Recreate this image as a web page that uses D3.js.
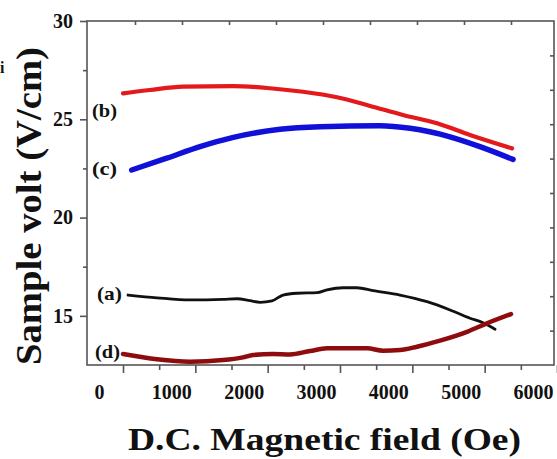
<!DOCTYPE html>
<html>
<head>
<meta charset="utf-8">
<script src="https://cdn.jsdelivr.net/npm/d3@7"></script>
<style>
  html, body { margin: 0; padding: 0; background: #fff; }
  svg { display: block; }
  text { font-family: "Liberation Serif", "Times New Roman", serif; font-weight: bold; fill: #111; }
</style>
</head>
<body>
<svg id="chart" width="557" height="459"></svg>
<script>
// ---- data (field in Oe, sample voltage in V/cm) ----
const xTickLabels = [0, 1000, 2000, 3000, 4000, 5000, 6000];
const yTickLabels = [15, 20, 25, 30];

const fieldA = [401, 802, 1258, 1714, 1908, 2088, 2226, 2392, 2544, 2737, 3014, 3152, 3373, 3567, 3788, 4161, 4535, 4853, 5129, 5309, 5475];
const voltA  = [16.06, 15.92, 15.81, 15.84, 15.87, 15.77, 15.69, 15.76, 16.06, 16.15, 16.18, 16.32, 16.43, 16.43, 16.28, 16.06, 15.72, 15.30, 14.88, 14.65, 14.32];

const fieldB = [332, 705, 1161, 1853, 2364, 2820, 3290, 3747, 4203, 4673, 5129, 5710];
const voltB  = [26.32, 26.49, 26.66, 26.69, 26.58, 26.40, 26.12, 25.68, 25.22, 24.80, 24.20, 23.52];

const fieldC = [452, 936, 1396, 1857, 2502, 3055, 3885, 4300, 4853, 5267, 5724];
const voltC  = [22.42, 23.02, 23.61, 24.08, 24.49, 24.62, 24.67, 24.54, 24.11, 23.61, 22.96];

const fieldD = [332, 802, 1258, 1714, 1991, 2129, 2406, 2641, 2917, 3152, 3705, 3926, 4161, 4396, 4714, 5088, 5364, 5696];
const voltD  = [13.06, 12.79, 12.67, 12.75, 12.89, 13.01, 13.06, 13.04, 13.21, 13.35, 13.35, 13.23, 13.26, 13.43, 13.74, 14.19, 14.62, 15.09];

const seriesNames = ["(a)", "(b)", "(c)", "(d)"];
// label anchors in data units (left edge field, centre voltage)
const labelField = [-28, -97, -97, -55];
const labelVolt  = [16.14, 25.47, 22.52, 13.19];

// ---- layout ----
const svg = d3.select("#chart");
const frame = { left: 87, right: 554, top: 21, bottom: 365 };

const x = d3.scaleLinear().domain([0, 6000]).range([99, 533]);
const y = d3.scaleLinear().domain([12.5, 30]).range([frame.bottom, frame.top]);
const xTop = d3.scaleLinear().domain([0, 10]).range([88, 558]);
const yRight = d3.scaleLinear().domain([0, 10]).range([frame.bottom, frame.top]);

const axisColor = "#555";

// frame
svg.append("rect")
  .attr("x", frame.left).attr("y", frame.top)
  .attr("width", frame.right - frame.left).attr("height", frame.bottom - frame.top)
  .attr("fill", "none").attr("stroke", axisColor).attr("stroke-width", 1.6);

function styleAxis(g) {
  g.select(".domain").remove();
  g.selectAll(".tick line").attr("stroke", axisColor).attr("stroke-width", 1.6);
  g.selectAll(".tick text").attr("font-size", 20).attr("font-family", "Liberation Serif").attr("font-weight", "bold").attr("fill", "#111");
}

// left axis
svg.append("g").attr("transform", `translate(${frame.left},0)`)
  .call(d3.axisLeft(y).tickValues(yTickLabels).tickSize(7).tickPadding(7).tickFormat(d3.format("d")))
  .call(styleAxis);
svg.append("g").attr("transform", `translate(${frame.left},0)`)
  .call(d3.axisLeft(y).tickValues([17.5, 22.5, 27.5]).tickSize(4).tickFormat(""))
  .call(styleAxis);

// bottom axis (tick marks sit right of their labels in the original)
const tickShift = 24;
svg.append("g").attr("transform", `translate(0,${frame.bottom})`)
  .call(d3.axisBottom(x).tickValues(xTickLabels).tickSize(8).tickPadding(12).tickFormat(d3.format("d")))
  .call(styleAxis)
  .call(g => g.selectAll(".tick line").attr("transform", `translate(${tickShift},0)`));
svg.append("g").attr("transform", `translate(0,${frame.bottom})`)
  .call(d3.axisBottom(x).tickValues([500, 1500, 2500, 3500, 4500, 5500]).tickSize(5).tickFormat(""))
  .call(styleAxis)
  .call(g => g.selectAll(".tick line").attr("transform", `translate(${tickShift},0)`));

// top axis (inward ticks)
svg.append("g").attr("transform", `translate(0,${frame.top})`)
  .call(d3.axisTop(xTop).tickValues(d3.range(1, 10)).tickSize(-4).tickFormat(""))
  .call(styleAxis);

// right axis (inward ticks)
svg.append("g").attr("transform", `translate(${frame.right},0)`)
  .call(d3.axisRight(yRight).tickValues(d3.range(1, 10)).tickSize(-4).tickFormat(""))
  .call(styleAxis);

// lines
const line = d3.line().x(d => x(d[0])).y(d => y(d[1])).curve(d3.curveMonotoneX);
const series = [
  { f: fieldB, v: voltB, color: "#e3191c", w: 4.2 },
  { f: fieldC, v: voltC, color: "#1010d8", w: 5.5 },
  { f: fieldA, v: voltA, color: "#111111", w: 2.8 },
  { f: fieldD, v: voltD, color: "#8e0c0e", w: 4.5 }
];
series.forEach(s => {
  svg.append("path")
    .datum(s.f.map((f, i) => [f, s.v[i]]))
    .attr("fill", "none")
    .attr("stroke", s.color)
    .attr("stroke-width", s.w)
    .attr("stroke-linecap", "round")
    .attr("stroke-linejoin", "round")
    .attr("d", line);
});

// curve labels
seriesNames.forEach((name, i) => {
  svg.append("text")
    .attr("x", x(labelField[i])).attr("y", y(labelVolt[i]))
    .attr("dy", "0.36em")
    .attr("font-size", 19)
    .attr("textLength", 25)
    .attr("lengthAdjust", "spacingAndGlyphs")
    .text(name);
});

// axis titles
svg.append("text")
  .attr("x", 128).attr("y", 450)
  .attr("font-size", 31)
  .attr("textLength", 393)
  .attr("lengthAdjust", "spacingAndGlyphs")
  .text("D.C. Magnetic field (Oe)");

svg.append("text")
  .attr("transform", "translate(41,365) rotate(-90)")
  .attr("font-size", 36)
  .attr("textLength", 318)
  .attr("lengthAdjust", "spacingAndGlyphs")
  .text("Sample volt (V/cm)");

// stray glyph at the left edge
svg.append("text")
  .attr("x", 0).attr("y", 73)
  .attr("font-size", 16).attr("font-weight", "normal")
  .text("i");
</script>
</body>
</html>
